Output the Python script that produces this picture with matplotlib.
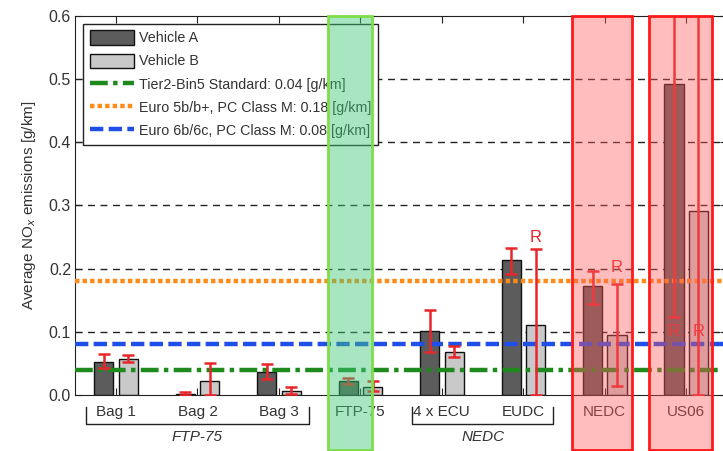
import matplotlib
matplotlib.use("Agg")
import matplotlib.pyplot as plt
from matplotlib.patches import Rectangle
from matplotlib.lines import Line2D
from matplotlib.patches import Patch
import matplotlib.transforms as mtransforms
import numpy as np

plt.rcParams['font.family'] = ['Liberation Sans', 'DejaVu Sans']

categories = ["Bag 1", "Bag 2", "Bag 3", "FTP-75", "4 x ECU", "EUDC", "NEDC", "US06"]
veh_a = [0.052, 0.002, 0.037, 0.022, 0.101, 0.214, 0.172, 0.492]
veh_b = [0.057, 0.022, 0.007, 0.013, 0.068, 0.111, 0.095, 0.292]
a_low = [0.042, 0.000, 0.026, 0.018, 0.068, 0.192, 0.144, 0.123]
a_high = [0.065, 0.004, 0.049, 0.027, 0.134, 0.233, 0.196, 0.640]
b_low = [0.052, 0.000, 0.002, 0.007, 0.060, 0.000, 0.014, 0.000]
b_high = [0.063, 0.051, 0.012, 0.022, 0.077, 0.231, 0.176, 0.640]
r_labels = [(6, "B", 0.250), (7, "B", 0.202), (8, "A", 0.100), (8, "B", 0.100)]
limits = [0.04, 0.18, 0.08]
limit_labels = ["Tier2-Bin5 Standard: 0.04 [g/km]",
                "Euro 5b/b+, PC Class M: 0.18 [g/km]",
                "Euro 6b/6c, PC Class M: 0.08 [g/km]"]
groups = [("FTP-75", 1, 3), ("NEDC", 5, 6)]
green_span = (3.60, 4.14)
red_spans = [(6.595, 7.34), (7.54, 8.31)]

fig = plt.figure(figsize=(7.23, 4.51), dpi=100)
L, R, B, T = 75.25 / 723, 727 / 723, 56 / 451, 435 / 451
ax = fig.add_axes([L, B, R - L, T - B])

x = np.arange(1, len(categories) + 1)
off = 0.15
w = 0.235
col_a = '#5c5c5c'
col_b = '#c9c9c9'
txtc = '#333333'
errc = '#e8262a'

for yv in [0.1, 0.2, 0.3, 0.4, 0.5]:
    ax.axhline(yv, color='#222222', lw=1.0, ls=(0, (5, 4)), zorder=1)

ax.bar(x - off, veh_a, w, color=col_a, edgecolor='#111111', lw=1.0, zorder=2)
ax.bar(x + off, veh_b, w, color=col_b, edgecolor='#111111', lw=1.0, zorder=2)

lc = ['#1e8a1e', '#ff8c1a', '#1f4fe6']
ls = [(0, (4, 1.2, 1, 1.2)), (0, (1, 0.7)), (0, (3, 1.2))]
for v, c, s in zip(limits, lc, ls):
    ax.axhline(v, color=c, lw=3.2, ls=s, zorder=3)

va = np.array(veh_a); vb = np.array(veh_b)
ax.errorbar(x - off, va, yerr=[va - np.array(a_low), np.array(a_high) - va],
            fmt='none', ecolor=errc, elinewidth=1.8, capsize=4, capthick=1.8, zorder=4)
ax.errorbar(x + off, vb, yerr=[vb - np.array(b_low), np.array(b_high) - vb],
            fmt='none', ecolor=errc, elinewidth=1.8, capsize=4, capthick=1.8, zorder=4)
for pos, veh, yv in r_labels:
    xx = pos - off if veh == "A" else pos + off
    ax.text(xx, yv, "R", color=errc, fontsize=12, ha='center', va='center', zorder=5)

trans = mtransforms.blended_transform_factory(ax.transData, ax.transAxes)
ax.add_patch(Rectangle((green_span[0], -0.145), green_span[1] - green_span[0], 1.145,
                       transform=trans, facecolor='#3fc878', alpha=0.45, edgecolor='none',
                       clip_on=False, zorder=6))
ax.add_patch(Rectangle((green_span[0], -0.145), green_span[1] - green_span[0], 1.145,
                       transform=trans, facecolor='none', edgecolor='#7fdc4a', lw=2,
                       clip_on=False, zorder=6))
for s0, s1 in red_spans:
    ax.add_patch(Rectangle((s0, -0.145), s1 - s0, 1.145, transform=trans,
                           facecolor='#ff5a5a', alpha=0.4, edgecolor='none',
                           clip_on=False, zorder=6))
    ax.add_patch(Rectangle((s0, -0.145), s1 - s0, 1.145, transform=trans,
                           facecolor='none', edgecolor='#ff1a1a', lw=2,
                           clip_on=False, zorder=6))

ax.set_xlim(0.5, 8.5)
ax.set_ylim(0, 0.6)
ax.set_xticks(x)
ax.set_xticklabels(categories, fontsize=11, color=txtc)
ax.set_yticks([0.0, 0.1, 0.2, 0.3, 0.4, 0.5, 0.6])
ax.set_yticklabels(["0.0", "0.1", "0.2", "0.3", "0.4", "0.5", "0.6"], fontsize=11.5, color=txtc)
ax.tick_params(axis='both', direction='in', length=5, color='#222222')
ax.tick_params(axis='x', top=True, pad=7)
ax.tick_params(axis='y', right=True, pad=3)
for sp in ax.spines.values():
    sp.set_color('#222222')
ax.set_ylabel("Average NO$_x$ emissions [g/km]", fontsize=11, color=txtc, labelpad=8)

# group brackets (axes-fraction y so they sit below the tick labels)
for name, g0, g1 in groups:
    x0 = g0 - 0.37
    x1 = g1 + 0.37
    yt, yb = -0.032, -0.077
    ax.plot([x0, x0, x1, x1], [yt, yb, yb, yt], color='#222222', lw=1.0,
            transform=trans, clip_on=False, zorder=2)
    ax.text((g0 + g1) / 2, -0.111, name, fontsize=11, style='italic', color=txtc,
            ha='center', va='center', transform=trans, clip_on=False)

handles = [Patch(facecolor=col_a, edgecolor='#111111', lw=1.0, label="Vehicle A"),
           Patch(facecolor=col_b, edgecolor='#111111', lw=1.0, label="Vehicle B")]
for c, s, lab in zip(lc, ls, limit_labels):
    handles.append(Line2D([0], [0], color=c, lw=3.2, ls=s, label=lab))
leg = ax.legend(handles=handles, loc='upper left', fontsize=10.3, frameon=True,
                fancybox=False, framealpha=1, edgecolor='#222222',
                handlelength=3.1, handleheight=1.15, handletextpad=0.35,
                labelspacing=0.58, borderaxespad=0.55, borderpad=0.45)
leg.get_frame().set_linewidth(1.0)
leg.set_zorder(5)
for t in leg.get_texts():
    t.set_color(txtc)

fig.savefig("out.png", dpi=100)
